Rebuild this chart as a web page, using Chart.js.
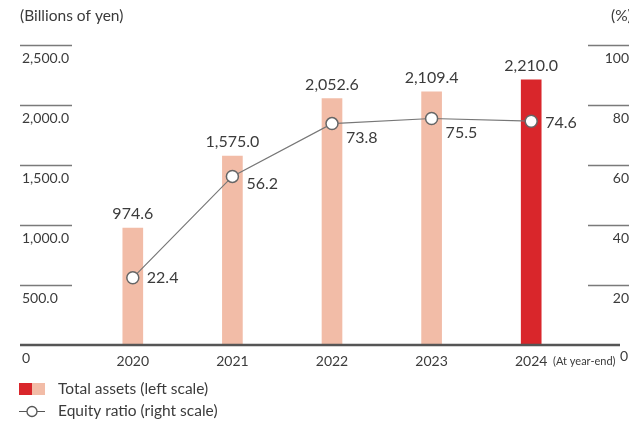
<!DOCTYPE html>
<html>
<head>
<meta charset="utf-8">
<script src="https://cdn.jsdelivr.net/npm/chart.js@4/dist/chart.umd.min.js"></script>
<style>
  html, body { margin: 0; padding: 0; background: #fff; }
  #wrap { width: 629px; height: 425px; }
</style>
</head>
<body>
<div id="wrap"><canvas id="assetsChart" width="629" height="425"></canvas></div>
<script>
// Total assets (bars, left scale) and equity ratio (line, right scale)
const years = ['2020', '2021', '2022', '2023', '2024'];
const totalAssets = [974.6, 1575.0, 2052.6, 2109.4, 2210.0];
const equityRatio = [22.4, 56.2, 73.8, 75.5, 74.6];
const leftTicks = [500, 1000, 1500, 2000, 2500];
const rightTicks = [20, 40, 60, 80, 100];

const FONT = 'Lato, "Open Sans", sans-serif';
const TEXT = '#3b3b3b';
const PINK = '#f2bca7';
const RED = '#d9262b';
const GRID = '#7a7a7a';

// label nudges for the ratio values (dx, dy from point)
const ratioLabelShift = [[14, 0], [14, 7], [14, 14], [14, 14], [14, 2]];

function fmt(v) {
    return v.toLocaleString('en-US', { minimumFractionDigits: 1, maximumFractionDigits: 1 });
}

const decorations = {
    id: 'decorations',
    beforeDatasetsDraw(chart) {
        const ctx = chart.ctx;
        const y = chart.scales.y, y2 = chart.scales.y2;
        ctx.save();
        ctx.strokeStyle = GRID;
        ctx.lineWidth = 1.5;
        ctx.fillStyle = TEXT;
        ctx.font = '14px ' + FONT;
        ctx.textBaseline = 'middle';
        leftTicks.forEach(v => {
            const py = Math.round(y.getPixelForValue(v)) + 0.5;
            ctx.beginPath(); ctx.moveTo(20, py); ctx.lineTo(72, py); ctx.stroke();
            ctx.textAlign = 'left';
            ctx.fillText(fmt(v), 22, py + 13);
        });
        rightTicks.forEach(v => {
            const py = Math.round(y2.getPixelForValue(v)) + 0.5;
            ctx.beginPath(); ctx.moveTo(588, py); ctx.lineTo(629, py); ctx.stroke();
            ctx.textAlign = 'right';
            ctx.fillText(String(v), 629, py + 13);
        });
        ctx.restore();
    },
    afterDatasetsDraw(chart) {
        const ctx = chart.ctx;
        const x = chart.scales.x, y = chart.scales.y;
        const base = y.getPixelForValue(0);
        ctx.save();
        // baseline
        ctx.strokeStyle = '#555';
        ctx.lineWidth = 2.5;
        ctx.beginPath(); ctx.moveTo(20, base); ctx.lineTo(620, base); ctx.stroke();

        ctx.fillStyle = TEXT;
        ctx.textBaseline = 'middle';
        ctx.font = '15.5px ' + FONT;
        ctx.textAlign = 'left';
        ctx.fillText('(Billions of yen)', 20, 16);
        ctx.fillText('(%)', 611, 16);
        ctx.font = '14px ' + FONT;
        ctx.fillText('0', 22, base + 13);
        ctx.textAlign = 'right';
        ctx.fillText('0', 628, base + 11);

        // category labels
        ctx.textAlign = 'center';
        years.forEach((yr, i) => {
            ctx.fillText(yr, x.getPixelForValue(i), base + 16);
        });
        ctx.font = '11px ' + FONT;
        ctx.textAlign = 'left';
        ctx.fillText('(At year-end)', 553, base + 16);

        // bar values
        ctx.font = '16px ' + FONT;
        ctx.textAlign = 'center';
        chart.getDatasetMeta(1).data.forEach((bar, i) => {
            ctx.fillText(fmt(totalAssets[i]), bar.x, bar.y - 14);
        });
        // ratio values
        ctx.textAlign = 'left';
        chart.getDatasetMeta(0).data.forEach((pt, i) => {
            const s = ratioLabelShift[i];
            ctx.fillText(fmt(equityRatio[i]), pt.x + s[0], pt.y + s[1]);
        });

        // legend
        ctx.fillStyle = RED;
        ctx.fillRect(19, 383, 13, 12);
        ctx.fillStyle = PINK;
        ctx.fillRect(32, 383, 13, 12);
        ctx.strokeStyle = '#555';
        ctx.lineWidth = 1;
        ctx.beginPath(); ctx.moveTo(19, 411.5); ctx.lineTo(45, 411.5); ctx.stroke();
        ctx.fillStyle = '#fff';
        ctx.lineWidth = 1.3;
        ctx.beginPath(); ctx.arc(32, 411.5, 5, 0, Math.PI * 2); ctx.fill(); ctx.stroke();
        ctx.fillStyle = TEXT;
        ctx.font = '15.5px ' + FONT;
        ctx.fillText('Total assets (left scale)', 58, 389);
        ctx.fillText('Equity ratio (right scale)', 58, 411);
        ctx.restore();
    }
};

new Chart(document.getElementById('assetsChart'), {
    data: {
        labels: years,
        datasets: [{
            type: 'line',
            label: 'Equity ratio (right scale)',
            data: equityRatio,
            yAxisID: 'y2',
            borderColor: '#777',
            borderWidth: 1.2,
            pointRadius: 6,
            pointBorderWidth: 1.5,
            pointBorderColor: '#666',
            pointBackgroundColor: '#fff',
            tension: 0,
            order: 0
        }, {
            type: 'bar',
            label: 'Total assets (left scale)',
            data: totalAssets,
            yAxisID: 'y',
            backgroundColor: years.map((_, i) => i === years.length - 1 ? RED : PINK),
            barThickness: 20,
            order: 1
        }]
    },
    options: {
        responsive: false,
        animation: false,
        layout: { padding: { left: 83, right: 48, top: 45, bottom: 80 } },
        plugins: { legend: { display: false }, tooltip: { enabled: false } },
        scales: {
            x: { display: false },
            y: { display: false, min: 0, max: 2500 },
            y2: { display: false, min: 0, max: 100, position: 'right' }
        }
    },
    plugins: [decorations]
});
</script>
</body>
</html>
